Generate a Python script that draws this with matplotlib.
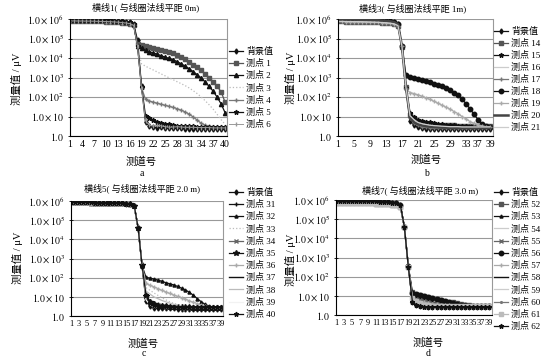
import matplotlib.pyplot as plt
import matplotlib as mpl
from matplotlib.ticker import NullLocator
from matplotlib.transforms import ScaledTranslation

mpl.rcParams['font.family'] = ['Liberation Serif', 'Noto Sans CJK SC']
mpl.rcParams['mathtext.fontset'] = 'stix'

# ---------------- 横线1 (a) : 测道 1-40 ----------------
ch_a = list(range(1, 41))
head_a_hi = [9.5e5, 9.4e5, 9.3e5, 9.2e5, 9.1e5, 9.0e5, 8.9e5, 8.8e5, 8.7e5, 8.6e5,
             8.4e5, 8.2e5, 8.0e5, 7.7e5, 7.3e5, 6.8e5, 5.6e5]
head_a_lo = [8.0e5, 8.0e5, 7.9e5, 7.9e5, 7.8e5, 7.8e5, 7.7e5, 7.6e5, 7.5e5, 7.4e5,
             7.3e5, 7.1e5, 6.9e5, 6.6e5, 6.3e5, 5.8e5, 4.8e5]
a_bg = head_a_hi + [8.0e4, 350, 5.0, 3.2, 2.8, 2.7, 2.8, 2.6, 2.5, 2.6, 2.5, 2.5, 2.4, 2.4,
                    2.4, 2.4, 2.4, 2.4, 2.4, 2.4, 2.3, 2.3, 2.3]
a_p1 = head_a_lo + [5.3e4, 4.6e4, 4.2e4, 3.8e4, 3.4e4, 3.0e4, 2.7e4, 2.4e4, 2.1e4, 1.8e4,
                    1.4e4, 1.1e4, 8.5e3, 6.4e3, 4.6e3, 3.3e3, 2.3e3, 1.6e3, 1.0e3, 620, 350, 190, 55]
a_p2 = head_a_hi + [4.0e4, 3.2e4, 2.5e4, 2.1e4, 1.8e4, 1.55e4, 1.3e4, 1.1e4, 9.5e3, 8.0e3,
                    6.5e3, 5.0e3, 3.8e3, 2.8e3, 2.0e3, 1.4e3, 950, 600, 350, 200, 100, 45, 16]
a_p3 = head_a_lo + [3.0e4, 5.0e3, 3.8e3, 3.0e3, 2.4e3, 1.9e3, 1.5e3, 1.2e3, 950, 760, 600,
                    480, 380, 290, 210, 150, 100, 65, 40, 24, 13, 7.0, 4.0]
a_p4 = head_a_lo + [4.0e4, 300, 75, 62, 54, 48, 42, 37, 33, 29, 25, 21, 17, 13, 9.5, 6.5,
                    4.5, 3.6, 3.2, 3.0, 3.0, 2.9, 2.9]
a_p5 = head_a_hi + [4.0e4, 320, 11, 8.0, 6.5, 5.5, 4.8, 4.3, 3.9, 3.6, 3.4, 3.3, 3.2, 3.1,
                    3.1, 3.0, 3.0, 3.0, 2.9, 2.9, 2.9, 2.9, 2.9]
a_p6 = head_a_lo + [4.0e4, 280, 6.0, 3.5, 3.2, 3.6, 3.3, 3.0, 2.8, 2.9, 3.0, 2.9, 2.8, 2.8,
                    2.8, 2.7, 2.7, 2.7, 2.7, 2.6, 2.6, 2.6, 2.6]

# ---------------- 横线3 (b) : 测道 1-39 ----------------
ch_b = list(range(1, 40))
head_b_hi = [9.5e5, 9.5e5, 9.4e5, 9.4e5, 9.3e5, 9.2e5, 9.1e5, 9.0e5, 8.9e5, 8.8e5,
             8.6e5, 8.3e5, 8.0e5, 7.6e5, 7.0e5, 5.5e5]
head_b_lo = [7.5e5, 7.5e5, 7.4e5, 7.4e5, 7.3e5, 7.3e5, 7.2e5, 7.1e5, 7.0e5, 6.9e5,
             6.8e5, 6.6e5, 6.4e5, 6.1e5, 5.7e5, 4.6e5]
b_bg = head_b_hi + [3.8e4, 280, 6.0, 3.5, 2.8, 2.5, 2.4, 2.4, 2.3, 2.3, 2.3, 2.3, 2.3, 2.3,
                    2.3, 2.3, 2.3, 2.3, 2.3, 2.3, 2.3, 2.3, 2.3]
b_p14 = head_b_lo + [3.8e4, 320, 12, 8.0, 6.0, 5.0, 4.5, 4.2, 4.0, 3.8, 3.7, 3.6, 3.5, 3.5,
                     3.4, 3.4, 3.3, 3.3, 3.3, 3.2, 3.2, 3.2, 3.2]
b_p15 = head_b_hi + [3.8e4, 300, 15, 9.0, 7.0, 6.0, 5.5, 5.0, 4.6, 4.3, 4.0, 3.8, 3.6, 3.5,
                     3.4, 3.3, 3.2, 3.1, 3.0, 3.0, 3.0, 3.0, 3.0]
b_p16 = head_b_lo + [3.8e4, 300, 10, 6.0, 4.5, 4.0, 3.6, 3.4, 3.2, 3.1, 3.0, 3.0, 2.9, 2.9,
                     2.9, 2.8, 2.8, 2.8, 2.8, 2.8, 2.8, 2.8, 2.8]
b_p17 = head_b_lo + [3.8e4, 300, 8.0, 4.5, 3.5, 3.0, 2.8, 2.7, 2.6, 2.6, 2.5, 2.5, 2.5, 2.5,
                     2.5, 2.5, 2.5, 2.5, 2.5, 2.5, 2.5, 2.5, 2.5]
b_p18 = head_b_hi + [4.0e4, 1300, 1100, 950, 850, 750, 650, 560, 480, 420, 360, 290, 230,
                     170, 120, 80, 45, 25, 13, 7.0, 4.2, 3.3, 3.0]
b_p19 = head_b_lo + [4.0e4, 250, 170, 150, 130, 110, 90, 75, 60, 48, 38, 30, 24, 18, 14,
                     10, 7.5, 5.5, 4.5, 3.8, 3.3, 3.0, 3.0]
b_p20 = head_b_hi + [3.8e4, 300, 9.0, 5.0, 4.0, 3.5, 3.2, 3.0, 2.9, 2.8, 2.7, 2.7, 2.6, 2.6,
                     2.6, 2.6, 2.6, 2.6, 2.6, 2.6, 2.6, 2.6, 2.6]
b_p21 = head_b_lo + [3.8e4, 300, 11, 7.0, 5.0, 4.3, 3.9, 3.6, 3.4, 3.3, 3.2, 3.1, 3.0, 3.0,
                     3.0, 2.9, 2.9, 2.9, 2.9, 2.9, 2.9, 2.9, 2.9]

# ---------------- 横线5 (c) : 测道 1-39 ----------------
ch_c = list(range(1, 40))
head_c_hi = [8.6e5, 8.6e5, 8.5e5, 8.5e5, 8.4e5, 8.4e5, 8.3e5, 8.3e5, 8.2e5, 8.1e5,
             8.0e5, 7.9e5, 7.8e5, 7.6e5, 7.4e5, 7.0e5, 5.8e5]
head_c_lo = [7.6e5, 7.6e5, 7.5e5, 7.5e5, 7.5e5, 7.4e5, 7.4e5, 7.3e5, 7.3e5, 7.2e5,
             7.1e5, 7.0e5, 6.9e5, 6.8e5, 6.6e5, 6.3e5, 5.2e5]
c_bg = head_c_hi + [4.0e4, 400, 6.0, 3.2, 2.7, 2.6, 2.5, 2.5, 2.5, 2.5, 2.4, 2.4, 2.4, 2.4,
                    2.4, 2.4, 2.4, 2.4, 2.4, 2.4, 2.4, 2.4]
c_p31 = head_c_lo + [4.0e4, 420, 12, 6.0, 4.5, 4.0, 3.6, 3.4, 3.3, 3.2, 3.1, 3.0, 3.0, 3.0,
                     2.9, 2.9, 2.9, 2.9, 2.9, 2.9, 2.9, 2.9]
c_p32 = head_c_hi + [4.0e4, 420, 105, 95, 85, 75, 65, 55, 48, 42, 35, 28, 23, 17, 12, 8.0,
                     5.5, 4.0, 3.3, 3.0, 3.0, 3.0]
c_p33 = head_c_lo + [4.0e4, 420, 30, 22, 16, 12, 9.0, 7.0, 5.5, 4.6, 4.0, 3.6, 3.3, 3.1,
                     3.0, 3.0, 2.9, 2.9, 2.9, 2.9, 2.9, 2.9]
c_p34 = head_c_lo + [4.0e4, 400, 10, 5.0, 3.5, 3.8, 3.3, 3.0, 2.9, 2.8, 2.8, 2.7, 2.7, 2.7,
                     2.7, 2.7, 2.7, 2.7, 2.7, 2.7, 2.7, 2.7]
c_p35 = head_c_hi + [4.0e4, 450, 11, 5.5, 4.2, 3.5, 3.2, 3.5, 3.0, 2.9, 2.8, 2.8, 2.8, 2.8,
                     2.7, 2.7, 2.7, 2.7, 2.7, 2.7, 2.7, 2.7]
c_p36 = head_c_lo + [4.0e4, 420, 50, 40, 33, 27, 22, 18, 15, 12.5, 10.5, 9.0, 7.5, 6.2, 5.2,
                     4.4, 3.8, 3.3, 3.0, 2.9, 2.9, 2.9]
c_p37 = head_c_hi + [4.0e4, 420, 8.0, 4.0, 3.2, 3.0, 2.9, 2.8, 2.7, 2.7, 2.6, 2.6, 2.6, 2.6,
                     2.6, 2.6, 2.6, 2.6, 2.6, 2.6, 2.6, 2.6]
c_p38 = head_c_lo + [4.0e4, 420, 20, 14, 10, 8.0, 6.5, 5.5, 4.7, 4.1, 3.7, 3.4, 3.2, 3.0,
                     2.9, 2.9, 2.8, 2.8, 2.8, 2.8, 2.8, 2.8]
c_p39 = head_c_lo + [4.0e4, 420, 7.0, 3.8, 3.1, 2.9, 2.8, 2.7, 2.7, 2.6, 2.6, 2.6, 2.6, 2.6,
                     2.6, 2.6, 2.6, 2.6, 2.6, 2.6, 2.6, 2.6]
c_p40 = head_c_hi + [4.0e4, 430, 12, 5.0, 3.6, 3.2, 3.0, 3.3, 3.0, 2.9, 2.9, 2.8, 2.8, 2.8,
                     2.8, 2.8, 2.8, 2.8, 2.8, 2.8, 2.8, 2.8]

# ---------------- 横线7 (d) : 测道 1-39 ----------------
ch_d = list(range(1, 40))
head_d_hi = [9.3e5, 9.2e5, 9.2e5, 9.1e5, 9.0e5, 8.9e5, 8.8e5, 8.7e5, 8.6e5, 8.5e5,
             8.4e5, 8.2e5, 8.0e5, 7.7e5, 7.3e5, 6.7e5, 5.5e5]
head_d_lo = [7.2e5, 7.2e5, 7.1e5, 7.1e5, 7.0e5, 7.0e5, 6.9e5, 6.8e5, 6.7e5, 6.6e5,
             6.5e5, 6.3e5, 6.1e5, 5.9e5, 5.6e5, 5.2e5, 4.4e5]
d_bg = head_d_hi + [4.0e4, 320, 5.0, 3.4, 3.0, 2.8, 2.7, 2.7, 2.6, 2.6, 2.6, 2.6, 2.6, 2.6,
                    2.6, 2.6, 2.6, 2.6, 2.6, 2.6, 2.6, 2.6]
d_p52 = head_d_lo + [4.0e4, 330, 16, 13, 11, 10, 9.0, 8.0, 7.0, 6.3, 5.6, 5.0, 4.5, 4.1,
                     3.7, 3.4, 3.2, 3.1, 3.0, 3.0, 3.0, 3.0]
d_p53 = head_d_hi + [4.0e4, 330, 10, 8.0, 6.5, 5.8, 5.2, 4.7, 4.3, 4.0, 3.7, 3.5, 3.3, 3.2,
                     3.1, 3.0, 3.0, 2.9, 2.9, 2.9, 2.9, 2.9]
d_p54 = head_d_lo + [4.0e4, 320, 6.0, 3.8, 3.2, 3.0, 2.9, 2.8, 2.8, 2.7, 2.7, 2.7, 2.7, 2.7,
                     2.7, 2.7, 2.7, 2.7, 2.7, 2.7, 2.7, 2.7]
d_p55 = head_d_lo + [4.0e4, 330, 9.0, 7.0, 6.0, 5.3, 4.8, 4.4, 4.0, 3.7, 3.5, 3.3, 3.2, 3.1,
                     3.0, 3.0, 2.9, 2.9, 2.9, 2.9, 2.9, 2.9]
d_p56 = head_d_hi + [4.0e4, 340, 14, 12, 10.5, 9.5, 8.5, 7.6, 6.8, 6.0, 5.3, 4.7, 4.2, 3.8,
                     3.5, 3.3, 3.1, 3.0, 3.0, 2.9, 2.9, 2.9]
d_p57 = head_d_lo + [4.0e4, 330, 8.0, 6.0, 5.0, 4.5, 4.1, 3.8, 3.6, 3.4, 3.3, 3.2, 3.1, 3.0,
                     3.0, 2.9, 2.9, 2.9, 2.9, 2.9, 2.9, 2.9]
d_p58 = head_d_hi + [4.0e4, 320, 5.5, 3.6, 3.1, 2.9, 2.8, 2.8, 2.7, 2.7, 2.7, 2.7, 2.7, 2.7,
                     2.7, 2.7, 2.7, 2.7, 2.7, 2.7, 2.7, 2.7]
d_p59 = head_d_lo + [4.0e4, 320, 6.5, 4.2, 3.4, 3.1, 2.9, 2.9, 2.8, 2.8, 2.8, 2.8, 2.8, 2.8,
                     2.8, 2.8, 2.8, 2.8, 2.8, 2.8, 2.8, 2.8]
d_p60 = head_d_lo + [4.0e4, 330, 7.0, 4.8, 3.8, 3.3, 3.1, 3.0, 2.9, 2.9, 2.9, 2.8, 2.8, 2.8,
                     2.8, 2.8, 2.8, 2.8, 2.8, 2.8, 2.8, 2.8]
d_p61 = head_d_lo + [4.0e4, 330, 7.5, 5.2, 4.0, 3.5, 3.2, 3.0, 3.0, 2.9, 2.9, 2.9, 2.9, 2.8,
                     2.8, 2.8, 2.8, 2.8, 2.8, 2.8, 2.8, 2.8]
d_p62 = head_d_hi + [4.0e4, 320, 5.0, 3.3, 2.8, 2.6, 2.5, 2.5, 2.5, 2.5, 2.5, 2.5, 2.5, 2.5,
                     2.5, 2.5, 2.5, 2.5, 2.5, 2.5, 2.5, 2.5]

ytick_vals = [1, 10, 1e2, 1e3, 1e4, 1e5, 1e6]
ytick_labels = [r'$1.0$', r'$1.0\times10$', r'$1.0\times10^{2}$', r'$1.0\times10^{3}$',
                r'$1.0\times10^{4}$', r'$1.0\times10^{5}$', r'$1.0\times10^{6}$']

# 线型
BG = dict(color='#111111', lw=0.9, marker='d', ms=2.6)
SQ = dict(color='#555555', lw=0.9, marker='s', ms=2.8)
TRI = dict(color='#111111', lw=0.9, marker='^', ms=3.0)
DOT = dict(color='#bbbbbb', lw=0.9, ls=':')
PLUS = dict(color='#777777', lw=0.9, marker='+', ms=3)
STAR = dict(color='#111111', lw=0.9, marker='*', ms=3.4)
VBAR = dict(color='#999999', lw=0.7, marker='|', ms=3)
LIGHT = dict(color='#cccccc', lw=0.9)
CIRC = dict(color='#111111', lw=0.9, marker='o', ms=3.2)
LPLUS = dict(color='#aaaaaa', lw=0.9, marker='+', ms=3)
THICK = dict(color='#444444', lw=1.8)
BLACK = dict(color='#111111', lw=1.0)
XM = dict(color='#666666', lw=0.9, marker='x', ms=2.6)
WHITE = dict(color='#f2f2f2', lw=0.9)
SMALL = dict(color='#777777', lw=0.9, marker='.', ms=2.5)
LSQ = dict(color='#bbbbbb', lw=0.9, marker='s', ms=2.4)

fig = plt.figure(figsize=(5.5, 3.59), dpi=100)
W, H = 550.0, 359.0


def rect(l, t, r, b):
    return [l / W, 1 - b / H, (r - l) / W, (b - t) / H]


def ftext(x, y, s, **kw):
    fig.text(x / W, 1 - y / H, s, ha='center', va='center', **kw)


def panel(box, x, series, xticks, xlim, xtick_fs, legend_xy, spacing,
          title, title_xy, xlab_xy, cap, cap_xy, ylab_xy):
    ax = fig.add_axes(rect(*box))
    for lab, y, st in series:
        ax.plot(x, y, label=lab, **st)
    ax.set_yscale('log')
    ax.set_ylim(1, 1e6)
    ax.set_xlim(*xlim)
    ax.set_yticks(ytick_vals)
    ax.set_yticklabels(ytick_labels, fontsize=7)
    ax.yaxis.set_minor_locator(NullLocator())
    ax.set_xticks(xticks)
    ax.set_xticklabels([str(t) for t in xticks], fontsize=xtick_fs)
    ax.tick_params(axis='y', length=3, direction='inout', width=0.6, pad=3)
    ax.tick_params(axis='x', length=0, pad=3)
    ax.yaxis.grid(True, color='#999999', lw=0.8)
    ax.set_axisbelow(True)
    ax.spines['top'].set_visible(False)
    ax.spines['right'].set_color('#999999')
    ax.spines['left'].set_linewidth(0.8)
    ax.spines['bottom'].set_linewidth(0.8)
    ax.legend(loc='upper left', bbox_to_anchor=(legend_xy[0] / W, 1 - legend_xy[1] / H),
              bbox_transform=fig.transFigure, frameon=False, fontsize=6.5,
              handlelength=1.5, handletextpad=0.4, labelspacing=spacing,
              borderpad=0, borderaxespad=0)
    ftext(*title_xy, title, fontsize=6.5)
    ftext(*xlab_xy, '测道号', fontsize=7.5)
    ftext(*cap_xy, cap, fontsize=7)
    ftext(*ylab_xy, '测量值 / μV', fontsize=7.5, rotation=90)
    return ax


panel((70, 19, 227, 136), ch_a,
      [('背景值', a_bg, BG), ('测点 1', a_p1, SQ), ('测点 2', a_p2, TRI),
       ('测点 3', a_p3, DOT), ('测点 4', a_p4, PLUS), ('测点 5', a_p5, STAR),
       ('测点 6', a_p6, VBAR)],
      list(range(1, 41, 3)), (1, 40.5), 7, (229, 47), 0.35,
      '横线1( 与线圈法线平距 0m)', (146, 7.5), (141, 162), 'a', (141.5, 173.5), (16, 79))

ax_b = panel((338, 19, 493, 136), ch_b,
             [('背景值', b_bg, BG), ('测点 14', b_p14, SQ), ('测点 15', b_p15, STAR),
              ('测点 16', b_p16, LIGHT), ('测点 17', b_p17, PLUS), ('测点 18', b_p18, CIRC),
              ('测点 19', b_p19, LPLUS), ('测点 20', b_p20, THICK), ('测点 21', b_p21, LIGHT)],
             list(range(1, 38, 4)) + [39], (1, 39.75), 7, (494, 27), 0.33,
             '横线3( 与线圈法线平距 1m)', (413, 8), (426.5, 160), 'b', (426.5, 173.5), (290, 78))
# 37 与 39 挨得太近，把 37 的标签稍向左移
for lab in ax_b.get_xticklabels():
    if lab.get_text() == '37':
        lab.set_transform(lab.get_transform() + ScaledTranslation(-3 / 72, 0, fig.dpi_scale_trans))

panel((71, 201, 223, 316), ch_c,
      [('背景值', c_bg, BG), ('测点 31', c_p31, dict(PLUS, color='#111111')),
       ('测点 32', c_p32, dict(TRI, ms=2.2)), ('测点 33', c_p33, DOT), ('测点 34', c_p34, XM),
       ('测点 35', c_p35, dict(STAR, ms=4)), ('测点 36', c_p36, LPLUS), ('测点 37', c_p37, BLACK),
       ('测点 38', c_p38, dict(LIGHT, color='#bbbbbb')), ('测点 39', c_p39, WHITE),
       ('测点 40', c_p40, STAR)],
      list(range(1, 40, 2)), (1, 39.5), 6, (229, 188), 0.35,
      '横线5( 与线圈法线平距 2.0 m)', (142, 188.5), (143, 343.5), 'c', (143.5, 354), (17, 258))

panel((336, 200, 492, 315), ch_d,
      [('背景值', d_bg, BG), ('测点 52', d_p52, SQ), ('测点 53', d_p53, dict(TRI, ms=2.2)),
       ('测点 54', d_p54, LIGHT), ('测点 55', d_p55, XM), ('测点 56', d_p56, CIRC),
       ('测点 57', d_p57, LPLUS), ('测点 58', d_p58, BLACK), ('测点 59', d_p59, LIGHT),
       ('测点 60', d_p60, SMALL), ('测点 61', d_p61, LSQ), ('测点 62', d_p62, STAR)],
      list(range(1, 40, 2)), (1, 39.8), 6, (494, 188), 0.35,
      '横线7( 与线圈法线平距 3.0 m)', (420, 190), (428, 343), 'd', (428, 353), (290, 260))

fig.savefig('out.png', dpi=100)
